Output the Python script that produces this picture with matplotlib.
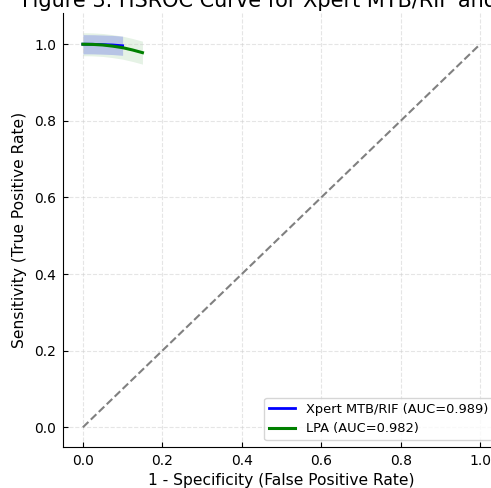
import numpy as np
import matplotlib
matplotlib.use("Agg")
import matplotlib.pyplot as plt

# HSROC summary curves
xpert_fpr = [0.0, 0.025, 0.05, 0.075, 0.1]
xpert_sens = [1.0, 0.9998, 0.999, 0.998, 0.996]
xpert_ci = 0.025

lpa_fpr = [0.0, 0.025, 0.05, 0.075, 0.1, 0.125, 0.15]
lpa_sens = [1.0, 0.9995, 0.998, 0.995, 0.991, 0.985, 0.978]
lpa_ci = 0.03

labels = ["Xpert MTB/RIF (AUC=0.989)", "LPA (AUC=0.982)"]

fig = plt.figure(figsize=(4.91, 4.88), dpi=100)
ax = fig.add_axes([63 / 491, 41 / 488, 437 / 491, 434 / 488])

xs = np.array(xpert_sens)
ls = np.array(lpa_sens)

ax.plot(xpert_fpr, xpert_sens, color="blue", lw=2, label=labels[0])
ax.fill_between(xpert_fpr, xs - xpert_ci, xs + xpert_ci, color="blue", alpha=0.2, lw=0)
ax.plot(lpa_fpr, lpa_sens, color="green", lw=2.2, label=labels[1])
ax.fill_between(lpa_fpr, ls - lpa_ci, ls + lpa_ci, color="green", alpha=0.1, lw=0)
ax.plot([0, 1], [0, 1], color="gray", linestyle="--", lw=1.5)

ax.set_title("Figure 3. HSROC Curve for Xpert MTB/RIF and LPA", fontsize=15, pad=4.5)
ax.set_xlabel("1 - Specificity (False Positive Rate)", fontsize=11.2, labelpad=4)
ax.set_ylabel("Sensitivity (True Positive Rate)", fontsize=11.2, labelpad=5)
ax.set_xticks([0, 0.2, 0.4, 0.6, 0.8, 1.0])
ax.set_yticks([0, 0.2, 0.4, 0.6, 0.8, 1.0])
ax.tick_params(labelsize=10, direction="in", pad=5)
ax.grid(True, linestyle="--", alpha=0.5, color="#cccccc")
ax.spines["top"].set_visible(False)
ax.spines["right"].set_visible(False)
ax.legend(loc="lower right", fontsize=9.4)

fig.savefig("out.png", dpi=100)
